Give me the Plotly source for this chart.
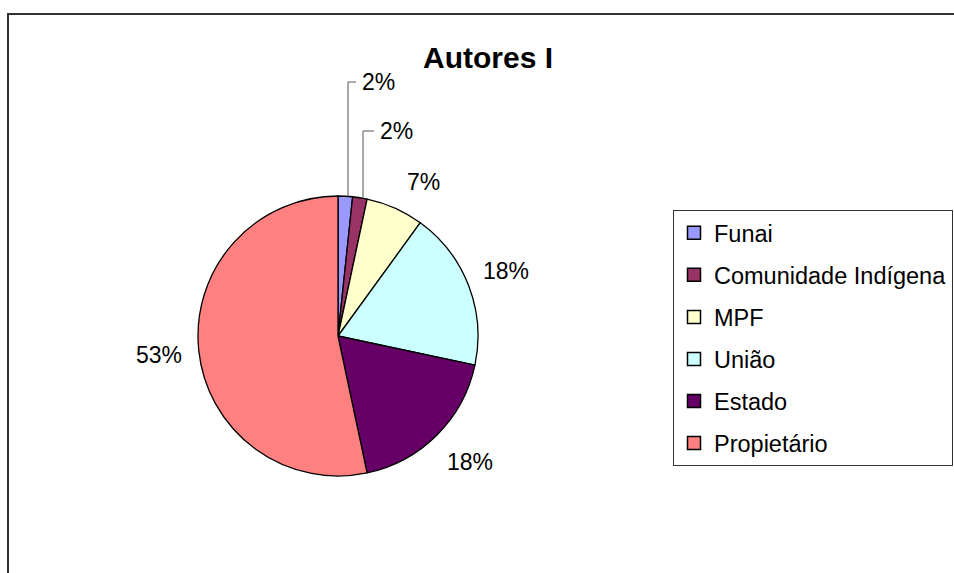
import math
import plotly.graph_objects as go

# ---- data ----
categories = ["Funai", "Comunidade Indígena", "MPF", "União", "Estado", "Propietário"]
values = [1, 1, 4, 11, 11, 32]
colors = ["#9999FF", "#993366", "#FFFFCC", "#CCFFFF", "#660066", "#FF8080"]
title_text = "Autores I"

# ---- layout constants (pixels) ----
W, H = 954, 573
CX, CY, R = 338, 336, 140
LABEL_R = 180
FONT = "Liberation Sans, Arial, sans-serif"
# labels placed by hand (pixel centres); leader x given for the moved small slices
label_override = {0: (378, 82), 1: (396, 131), 2: (423, 182), 4: (470, 462)}
leader_x = {0: 348, 1: 363}

def px(x):
    return x / W

def py(y):
    return 1 - y / H

total = sum(values)
fig = go.Figure()

fig.add_trace(go.Pie(
    labels=categories, values=values, sort=False, direction="clockwise", rotation=0,
    marker=dict(colors=colors, line=dict(color="black", width=1.3)),
    textinfo="none", hoverinfo="label+percent", showlegend=False,
    domain=dict(x=[px(CX - R), px(CX + R)], y=[py(CY + R), py(CY - R)]),
))

# legend entries
for i, (c, col) in enumerate(zip(categories, colors)):
    fig.add_trace(go.Scatter(
        x=[None], y=[None], mode="markers", name=c, legendgroup=f"g{i}",
        marker=dict(symbol="square", size=13, color=col, line=dict(color="black", width=1.5)),
    ))

annotations = []
shapes = []
cum = 0
for i, v in enumerate(values):
    mid = (cum + v / 2) / total * 2 * math.pi
    cum += v
    pct = f"{round(v / total * 100)}%"
    if i in label_override:
        lx, ly = label_override[i]
    else:
        lx = CX + LABEL_R * math.sin(mid)
        ly = CY - LABEL_R * math.cos(mid)
    if i in leader_x:
        xl = leader_x[i]
        ye = CY - math.sqrt(R * R - (xl - CX) ** 2)
        shapes.append(dict(type="path", xref="paper", yref="paper",
                           path=f"M {px(xl)} {py(ye)} L {px(xl)} {py(ly)} L {px(lx - 22)} {py(ly)}",
                           line=dict(color="#555555", width=1)))
    annotations.append(dict(x=px(lx), y=py(ly), xref="paper", yref="paper", text=pct,
                            showarrow=False, xanchor="center", yanchor="middle",
                            font=dict(family=FONT, size=23, color="black")))

# outer chart border
shapes.append(dict(type="rect", xref="paper", yref="paper",
                   x0=px(8), x1=px(W + 20), y0=py(H + 20), y1=py(14),
                   line=dict(color="#333333", width=2), fillcolor="rgba(0,0,0,0)"))

fig.update_layout(
    width=W, height=H,
    margin=dict(l=0, r=0, t=0, b=0),
    paper_bgcolor="white", plot_bgcolor="white",
    title=dict(text=f"<b>{title_text}</b>", x=px(488), y=py(57), xanchor="center", yanchor="middle",
               font=dict(family=FONT, size=30, color="black")),
    xaxis=dict(visible=False), yaxis=dict(visible=False),
    showlegend=True,
    legend=dict(x=px(673), y=py(210), xanchor="left", yanchor="top",
                bordercolor="#333333", borderwidth=1, bgcolor="white",
                font=dict(family=FONT, size=23.5, color="black"),
                tracegroupgap=8.5, itemwidth=30),
    annotations=annotations, shapes=shapes,
)

fig.write_html("out.html", config={"displayModeBar": False},
               post_script="document.body.style.margin='0px';")
